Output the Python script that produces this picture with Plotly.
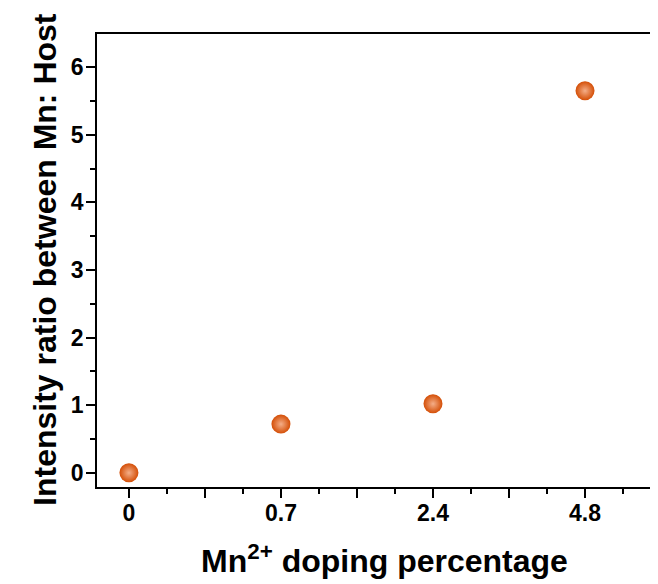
import plotly.graph_objects as go

categories = ["0", "0.7", "2.4", "4.8"]
ratio = [0.0, 0.72, 1.02, 5.65]
y_ticks = [0, 1, 2, 3, 4, 5, 6]

positions = list(range(len(categories)))
x_tickvals = []
x_ticktext = []
for i, c in enumerate(categories):
    x_tickvals += [i, i + 0.5]
    x_ticktext += [c, ""]

font_family = "Liberation Sans"
tick_font = dict(family=font_family, size=23, color="black", weight=700)
title_font = dict(family=font_family, size=32, color="black", weight=700)

fig = go.Figure()
fig.add_trace(go.Scatter(
    x=positions, y=ratio, mode="markers",
    marker=dict(size=19, color="#D44E06",
                gradient=dict(type="radial", color="#F4AE88"),
                line=dict(width=0)),
    showlegend=False, cliponaxis=False,
))

axis_common = dict(
    showgrid=False, zeroline=False, showline=True, linecolor="black", linewidth=1.6,
    ticks="outside", ticklen=9, tickwidth=1.6, tickcolor="black",
    tickfont=tick_font,
)

fig.update_xaxes(
    **axis_common,
    range=[-0.21, 3.48], mirror=True,
    tickmode="array", tickvals=x_tickvals, ticktext=x_ticktext,
    minor=dict(tickmode="linear", tick0=0, dtick=0.25, ticklen=5, tickwidth=1.6,
               tickcolor="black", ticks="outside"),
    ticklabelstandoff=-4,
)
fig.update_yaxes(
    **axis_common,
    range=[-0.21, 6.49], mirror=False,
    tickmode="array", tickvals=y_ticks, ticktext=[str(v) for v in y_ticks],
    minor=dict(tickmode="linear", tick0=0, dtick=0.5, ticklen=5, tickwidth=1.6,
               tickcolor="black", ticks="outside"),
    ticklabelstandoff=-2,
)

fig.add_annotation(
    text="Mn<sup>2+</sup> doping percentage", font=title_font,
    xref="paper", yref="paper", x=0.513, y=-0.16,
    xanchor="center", yanchor="middle", showarrow=False,
)
fig.add_annotation(
    text="Intensity ratio between Mn: Host", font=title_font, textangle=-90,
    xref="paper", yref="paper", x=-0.093, y=0.503,
    xanchor="center", yanchor="middle", showarrow=False,
)

fig.update_layout(
    width=650, height=576,
    margin=dict(l=89, r=0, t=26, b=97, autoexpand=False),
    plot_bgcolor="white", paper_bgcolor="white",
)

fig.write_html("out.html")
